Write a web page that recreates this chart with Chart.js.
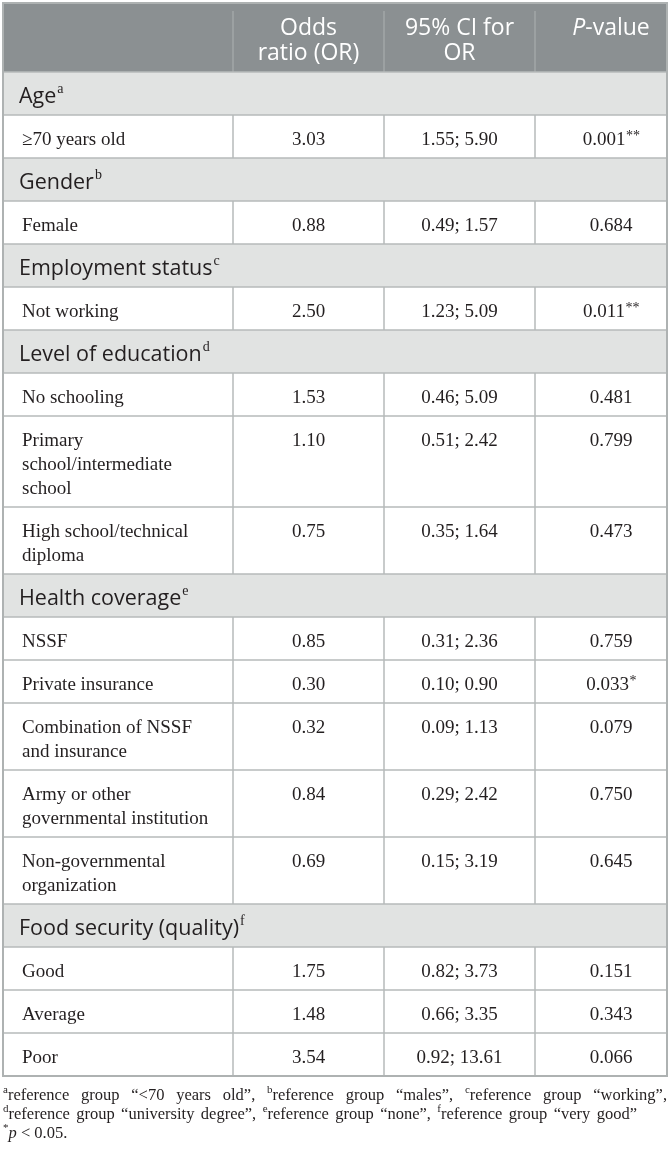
<!DOCTYPE html>
<html>
<head>
<meta charset="utf-8">
<script src="https://cdn.jsdelivr.net/npm/chart.js@4.4.1/dist/chart.umd.min.js"></script>
<style>
  html, body { margin: 0; padding: 0; background: #fff; }
  #wrap { width: 671px; height: 1164px; }
</style>
</head>
<body>
<div id="wrap"><canvas id="oddsTable" width="671" height="1164"></canvas></div>
<script>
// data of the table
const sections = ['Age', 'Gender', 'Employment status', 'Level of education', 'Health coverage', 'Food security (quality)'];
const sectionNotes = ['a', 'b', 'c', 'd', 'e', 'f'];
const sectionOf = [0, 1, 2, 3, 3, 3, 4, 4, 4, 4, 4, 5, 5, 5];
const categories = [
    ['≥70 years old'],
    ['Female'],
    ['Not working'],
    ['No schooling'],
    ['Primary', 'school/intermediate', 'school'],
    ['High school/technical', 'diploma'],
    ['NSSF'],
    ['Private insurance'],
    ['Combination of NSSF', 'and insurance'],
    ['Army or other', 'governmental institution'],
    ['Non-governmental', 'organization'],
    ['Good'],
    ['Average'],
    ['Poor']
];
const oddsRatios = [3.03, 0.88, 2.50, 1.53, 1.10, 0.75, 0.85, 0.30, 0.32, 0.84, 0.69, 1.75, 1.48, 3.54];
const ciLower = [1.55, 0.49, 1.23, 0.46, 0.51, 0.35, 0.31, 0.10, 0.09, 0.29, 0.15, 0.82, 0.66, 0.92];
const ciUpper = [5.90, 1.57, 5.09, 5.09, 2.42, 1.64, 2.36, 0.90, 1.13, 2.42, 3.19, 3.73, 3.35, 13.61];
const pValues = ['0.001', '0.684', '0.011', '0.481', '0.799', '0.473', '0.759', '0.033', '0.079', '0.750', '0.645', '0.151', '0.343', '0.066'];
const pStars = ['**', '', '**', '', '', '', '', '*', '', '', '', '', '', ''];
const columnTitles = [[], ['Odds', 'ratio (OR)'], ['95% CI for', 'OR'], ['P-value']];
const footnotes = [
    [{ t: 'a', sup: true }, { t: 'reference group “<70 years old”, ' }, { t: 'b', sup: true }, { t: 'reference group “males”, ' }, { t: 'c', sup: true }, { t: 'reference group “working”,' }],
    [{ t: 'd', sup: true }, { t: 'reference group “university degree”, ' }, { t: 'e', sup: true }, { t: 'reference group “none”, ' }, { t: 'f', sup: true }, { t: 'reference group “very good”' }],
    [{ t: '*', sup: true }, { t: 'p', it: true }, { t: ' < 0.05.' }]
];

// layout
const colEdges = [3, 233, 384, 535, 667];
const colCenters = [0, 308.5, 459.5, 611];
const tableTop = 3;
const headerBottom = 72;
const rowBase = 43;
const lineStep = 24;
const SANS = '"Open Sans", "Noto Sans", sans-serif';
const SERIF = '"Liberation Serif", "DejaVu Serif", serif';
const INK = '#231f20';

// rich text with superscripts (optionally justified)
function richWidth(ctx, segs, size, family) {
    let w = 0;
    segs.forEach(s => {
        ctx.font = (s.it ? 'italic ' : '') + (s.sup ? Math.round(size * 0.68) : size) + 'px ' + family;
        w += ctx.measureText(s.t).width;
    });
    return w;
}

function drawRich(ctx, segs, x, y, size, family, color, justifyTo) {
    let extra = 0;
    if (justifyTo) {
        const natural = richWidth(ctx, segs, size, family);
        let spaces = 0;
        segs.forEach(s => { if (!s.sup) spaces += (s.t.match(/ /g) || []).length; });
        if (spaces > 0) extra = Math.max(0, (justifyTo - x - natural) / spaces);
    }
    ctx.fillStyle = color;
    ctx.textAlign = 'left';
    ctx.textBaseline = 'alphabetic';
    let cx = x;
    segs.forEach(s => {
        const fs = s.sup ? Math.round(size * 0.68) : size;
        ctx.font = (s.it ? 'italic ' : '') + fs + 'px ' + family;
        const dy = s.sup ? -size * 0.4 : 0;
        if (extra && !s.sup) {
            const parts = s.t.split(' ');
            parts.forEach((p, k) => {
                ctx.fillText(p, cx, y + dy);
                cx += ctx.measureText(p).width;
                if (k < parts.length - 1) cx += ctx.measureText(' ').width + extra;
            });
        } else {
            ctx.fillText(s.t, cx, y + dy);
            cx += ctx.measureText(s.t).width;
        }
    });
}

const tablePlugin = {
    id: 'tablePlugin',
    afterDraw(chart) {
        const ctx = chart.ctx;
        const xs = chart.scales.x;
        const ys = chart.scales.y;
        const X = v => xs.getPixelForValue(v);
        const Y = v => ys.getPixelForValue(v);
        const left = X(colEdges[0]);
        const right = X(colEdges[colEdges.length - 1]);

        // build rows from data
        const rows = [];
        let top = headerBottom;
        sections.forEach((name, s) => {
            rows.push({ kind: 'section', s, top, h: rowBase });
            top += rowBase;
            categories.forEach((lines, i) => {
                if (sectionOf[i] !== s) return;
                const h = rowBase + lineStep * (lines.length - 1);
                rows.push({ kind: 'data', i, top, h });
                top += h;
            });
        });
        const tableBottom = top;

        ctx.save();
        // header background
        ctx.fillStyle = '#8b9092';
        ctx.fillRect(left, Y(tableTop), right - left, Y(headerBottom) - Y(tableTop));
        // section backgrounds
        rows.forEach(r => {
            if (r.kind === 'section') {
                ctx.fillStyle = '#e1e3e2';
                ctx.fillRect(left, Y(r.top), right - left, Y(r.top + r.h) - Y(r.top));
            }
        });

        // grid lines
        ctx.lineWidth = 1.5;
        ctx.strokeStyle = '#a2a7a8';
        ctx.beginPath();
        colEdges.slice(1, -1).forEach(c => {
            ctx.moveTo(X(c), Y(tableTop + 8));
            ctx.lineTo(X(c), Y(headerBottom));
        });
        ctx.stroke();

        ctx.strokeStyle = '#b6baba';
        ctx.beginPath();
        rows.forEach(r => {
            ctx.moveTo(left, Y(r.top));
            ctx.lineTo(right, Y(r.top));
            if (r.kind === 'data') {
                colEdges.slice(1, -1).forEach(c => {
                    ctx.moveTo(X(c), Y(r.top));
                    ctx.lineTo(X(c), Y(r.top + r.h));
                });
            }
        });
        ctx.stroke();

        // outer frame
        ctx.lineWidth = 2;
        ctx.strokeStyle = '#aeb2b2';
        ctx.strokeRect(left, Y(tableTop), right - left, Y(tableBottom) - Y(tableTop));

        // header text
        ctx.fillStyle = '#ffffff';
        ctx.textBaseline = 'alphabetic';
        columnTitles.forEach((lines, c) => {
            lines.forEach((line, k) => {
                const y = Y(35 + 25 * k);
                if (line === 'P-value') {
                    const rest = '-value';
                    ctx.font = 'italic 23px ' + SANS;
                    const wp = ctx.measureText('P').width;
                    ctx.font = '23px ' + SANS;
                    const wr = ctx.measureText(rest).width;
                    const x0 = X(colCenters[c]) - (wp + wr) / 2;
                    ctx.textAlign = 'left';
                    ctx.font = 'italic 23px ' + SANS;
                    ctx.fillText('P', x0, y);
                    ctx.font = '23px ' + SANS;
                    ctx.fillText(rest, x0 + wp, y);
                } else {
                    ctx.font = '23px ' + SANS;
                    ctx.textAlign = 'center';
                    ctx.fillText(line, X(colCenters[c]), y);
                }
            });
        });

        // body text
        rows.forEach(r => {
            if (r.kind === 'section') {
                ctx.font = '21.5px ' + SANS;
                ctx.fillStyle = INK;
                ctx.textAlign = 'left';
                ctx.fillText(sections[r.s], X(19), Y(r.top + 31));
                const w = ctx.measureText(sections[r.s]).width;
                ctx.font = '14px ' + SERIF;
                ctx.fillText(sectionNotes[r.s], X(19) + w + 1, Y(r.top + 21));
                return;
            }
            const i = r.i;
            ctx.fillStyle = INK;
            ctx.font = '19px ' + SERIF;
            ctx.textAlign = 'left';
            categories[i].forEach((line, k) => {
                ctx.fillText(line, X(22), Y(r.top + 30 + lineStep * k));
            });
            const yb = Y(r.top + 30);
            ctx.textAlign = 'center';
            ctx.fillText(oddsRatios[i].toFixed(2), X(colCenters[1]), yb);
            ctx.fillText(ciLower[i].toFixed(2) + '; ' + ciUpper[i].toFixed(2), X(colCenters[2]), yb);
            // p-value with stars
            const pw = ctx.measureText(pValues[i]).width;
            ctx.font = '14px ' + SERIF;
            const sw = ctx.measureText(pStars[i]).width;
            const x0 = X(colCenters[3]) - (pw + sw) / 2;
            ctx.textAlign = 'left';
            ctx.font = '19px ' + SERIF;
            ctx.fillText(pValues[i], x0, yb);
            if (pStars[i]) {
                ctx.font = '14px ' + SERIF;
                ctx.fillText(pStars[i], x0 + pw + 0.5, yb - 5);
            }
        });

        // footnotes
        drawRich(ctx, footnotes[0], X(3), Y(tableBottom + 24), 16.5, SERIF, INK, X(667));
        drawRich(ctx, footnotes[1], X(3), Y(tableBottom + 43), 16.5, SERIF, INK, X(637));
        drawRich(ctx, footnotes[2], X(3), Y(tableBottom + 62), 16.5, SERIF, INK, null);
        ctx.restore();
    }
};

const ctx = document.getElementById('oddsTable').getContext('2d');
const oddsTable = new Chart(ctx, {
    type: 'scatter',
    data: { datasets: [] },
    options: {
        responsive: false,
        animation: false,
        layout: { padding: 0 },
        plugins: {
            legend: { display: false },
            tooltip: { enabled: false }
        },
        scales: {
            x: { type: 'linear', display: false, min: 0, max: 671 },
            y: { type: 'linear', display: false, min: 0, max: 1164, reverse: true }
        }
    },
    plugins: [tablePlugin]
});
</script>
</body>
</html>
